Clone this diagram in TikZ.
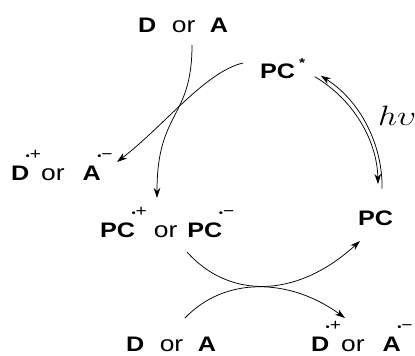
\RequirePackage{fix-cm}
\documentclass[tikz,border=0pt]{standalone}
\usepackage{fontspec}
\setmainfont{Liberation Sans}
\newfontfamily\strfam[FakeStretch=1.2]{Liberation Sans}
\usepackage{graphicx}
\usetikzlibrary{arrows.meta}
\newcommand{\orword}{{\fontsize{22}{25}\selectfont or}}
\newcommand{\rdsup}[1]{\kern-3.5pt\raisebox{21pt}{\fontsize{10}{10}\selectfont\textbullet}\raisebox{21pt}{\fontsize{16}{16}\selectfont #1}}
\newcommand{\starsup}{\kern4pt\raisebox{11pt}{\fontsize{13}{13}\selectfont\bfseries *}}
\begin{document}
\begin{tikzpicture}[x=1pt,y=-1pt,
  lbl/.style={anchor=base west, inner sep=0pt, outer sep=0pt, font={\strfam\fontsize{21}{25}\selectfont}},
  arr/.style={line width=0.75pt, -{Stealth[length=10pt,width=6.5pt,inset=3pt]}}]
\useasboundingbox (0,0) rectangle (415,356);
% labels
\node[lbl] (DAtop) at (138.2,32) {\textbf{D}\hspace{15.6pt}\orword\hspace{14.5pt}\textbf{A}};
\node[lbl] (PCs) at (260,78) {\textbf{PC}\starsup};
\node[lbl] (DAleft) at (11,180) {\textbf{D}\rdsup{+}\orword\hspace{18pt}\textbf{A}\rdsup{−}};
\node[lbl] (PCmid) at (100,237) {\textbf{PC}\rdsup{+}\hspace{7pt}\orword\hspace{10pt}\textbf{PC}\rdsup{−}};
\node[lbl] (PCr) at (358,225) {\textbf{PC}};
\node[lbl] (DAbot) at (126,351.5) {\textbf{D}\hspace{15.6pt}\orword\hspace{14.5pt}\textbf{A}};
\node[lbl] (DAbr) at (311,351.5) {\textbf{D}\rdsup{+}\orword\hspace{18pt}\textbf{A}\rdsup{−}};
\node[anchor=base west, inner sep=0pt] (hv) at (378,125) {\fontsize{28}{30}\selectfont\scalebox{1.2}[1]{$h\upsilon$}};
% arrow end points
\coordinate (a1s) at (192,45);
\coordinate (a1e) at (157,198);
\coordinate (a2s) at (243,63);
\coordinate (a2e) at (117,162);
\coordinate (eqO) at (382.1,188.6);
\coordinate (eqI) at (314.8,76.7);
\coordinate (a5s) at (187,252);
\coordinate (a5e) at (360,241);
\coordinate (a6s) at (185,318);
\coordinate (a6e) at (345,318);
% arrows
\draw[arr] (a1s) .. controls (192,120) and (157,110) .. (a1e);
\draw[arr] (a2s) .. controls (205,72) and (165,125) .. (a2e);
\draw[arr] (eqO) arc[start angle=0.5, end angle=-57.5, radius=132.5];
\draw[arr] (eqI) arc[start angle=-59.5, end angle=-1.5, radius=128.5];
\draw[arr] (a5s) .. controls (228,298) and (295,300) .. (a5e);
\draw[arr] (a6s) .. controls (225,276) and (290,278) .. (a6e);
\end{tikzpicture}
\end{document}
